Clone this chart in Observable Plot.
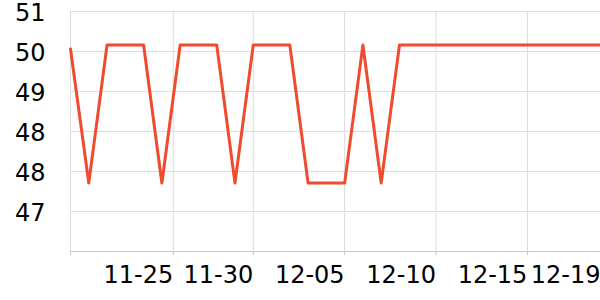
<!DOCTYPE html>
<html>
<head>
<meta charset="utf-8">
<script src="https://cdn.jsdelivr.net/npm/d3@7"></script>
<script src="https://cdn.jsdelivr.net/npm/@observablehq/plot@0.6"></script>
<style>
  html, body { margin: 0; padding: 0; background: #fff; }
  #chart svg { display: block; }
</style>
</head>
<body>
<div id="chart"></div>
<script>
// Daily values, 2023-11-20 .. 2023-12-19
const startDate = "2023-11-20";
const values = [
  50.05, 47.37, 50.13, 50.13, 50.13, 47.37, 50.13, 50.13, 50.13, 47.37,
  50.13, 50.13, 50.13, 47.37, 47.37, 47.37, 50.13, 47.37, 50.13, 50.13,
  50.13, 50.13, 50.13, 50.13, 50.13, 50.13, 50.13, 50.13, 50.13, 50.13
];
const yDomain = [46, 50.8];
const yTicks = [46.8, 47.6, 48.4, 49.2, 50.0, 50.8];
const xGridDates = ["2023-11-20", "2023-11-25T15:00", "2023-11-30", "2023-12-05", "2023-12-10", "2023-12-15"];
const xLabelDates = ["2023-11-25T15:00", "2023-11-30", "2023-12-05", "2023-12-10", "2023-12-15", "2023-12-19"];

const day0 = new Date(startDate + "T00:00Z");
const data = values.map((v, i) => ({ date: new Date(day0.getTime() + i * 864e5), value: v }));
const toDate = s => new Date(s.length > 10 ? s + "Z" : s + "T00:00Z");
const gridDates = xGridDates.map(toDate);
const labelDates = xLabelDates.map(toDate);

const chart = Plot.plot({
  width: 600,
  height: 300,
  marginLeft: 70,
  marginRight: 0,
  marginTop: 11,
  marginBottom: 49,
  style: { fontFamily: "DejaVu Sans", background: "#fff" },
  x: { type: "utc", domain: [data[0].date, data[data.length - 1].date] },
  y: { domain: yDomain },
  marks: [
    Plot.gridY(yTicks, { stroke: "#dcdcdc", strokeOpacity: 1 }),
    Plot.gridX(gridDates, { stroke: "#dcdcdc", strokeOpacity: 1 }),
    Plot.ruleY([yDomain[0]], { stroke: "#c8c8c8" }),
    Plot.axisX(gridDates, { tickSize: 4, stroke: "#c8c8c8", tickFormat: () => "", label: null }),
    Plot.axisX(labelDates, {
      tickSize: 0, tickPadding: 14, textAnchor: "end", fontSize: 24, fill: "#000",
      tickFormat: d3.utcFormat("%m-%d"), label: null
    }),
    Plot.axisY(yTicks, {
      tickSize: 0, tickPadding: 25, fontSize: 24, fill: "#000", dy: 2,
      tickFormat: d3.format(".0f"), label: null
    }),
    Plot.lineY(data, { x: "date", y: "value", stroke: "#ef4b2f", strokeWidth: 3 })
  ]
});
document.getElementById("chart").appendChild(chart);
</script>
</body>
</html>
